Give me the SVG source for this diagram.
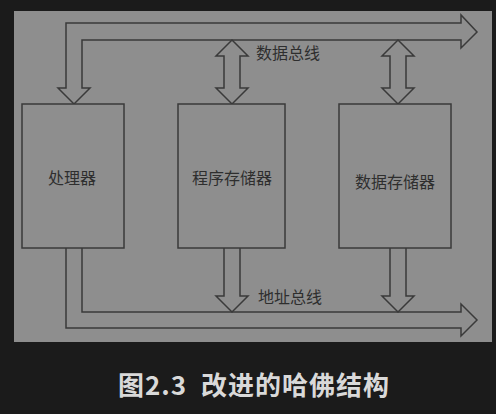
<svg xmlns="http://www.w3.org/2000/svg" width="496" height="414" viewBox="0 0 496 414">
<style>
.bg{fill:#1b1b1b}
.panel{fill:#8e8e8e}
.node{fill:#8e8e8e;stroke:#3a3a3a;stroke-width:1.5}
.bus{fill:#8e8e8e;stroke:#3a3a3a;stroke-width:1.5;stroke-linejoin:miter}
.lbl{font-family:"Noto Sans CJK SC","Noto Sans",sans-serif;font-size:16px;fill:#2e2e2e;text-anchor:middle}
.cap{font-family:"Noto Sans CJK SC","Noto Sans",sans-serif;font-size:26px;font-weight:bold;fill:#d9d9d9;letter-spacing:1px}
</style>
<rect class="bg" x="0" y="0" width="496" height="414"/>
<rect class="panel" x="14" y="11" width="478" height="331"/>
<g id="connectors">
<path id="data-bus" class="bus" d="M82,88 L82,40 L461,40 L461,48 L477,32 L461,15 L461,23 L66,23 L66,88 L58,88 L74,104 L90,88 Z"/>
<path id="addr-bus" class="bus" d="M66,248 L66,328 L461,328 L461,336 L477,320 L461,304 L461,312 L82,312 L82,248"/>
<path id="prog-data" class="bus" d="M232,40 L248,56 L240,56 L240,88 L248,88 L232,104 L216,88 L224,88 L224,56 L216,56 Z"/>
<path id="dmem-data" class="bus" d="M398,40 L414,56 L406,56 L406,88 L414,88 L398,104 L382,88 L390,88 L390,56 L382,56 Z"/>
<path id="prog-addr" class="bus" d="M224,248 L224,296 L216,296 L232,312 L248,296 L240,296 L240,248"/>
<path id="dmem-addr" class="bus" d="M390,248 L390,296 L382,296 L398,312 L414,296 L406,296 L406,248"/>
<text class="lbl" x="288" y="59">数据总线</text>
<text class="lbl" x="290" y="303">地址总线</text>
</g>
<g id="processor">
<rect class="node" x="22" y="104" width="102" height="144"/>
<text class="lbl" x="72" y="184">处理器</text>
</g>
<g id="program-memory">
<rect class="node" x="178" y="104" width="107" height="144"/>
<text class="lbl" x="232" y="184">程序存储器</text>
</g>
<g id="data-memory">
<rect class="node" x="339" y="104" width="112" height="144"/>
<text class="lbl" x="395" y="188">数据存储器</text>
</g>
<text class="cap" x="118" y="395" xml:space="preserve">图2.3  改进的哈佛结构</text>
</svg>
